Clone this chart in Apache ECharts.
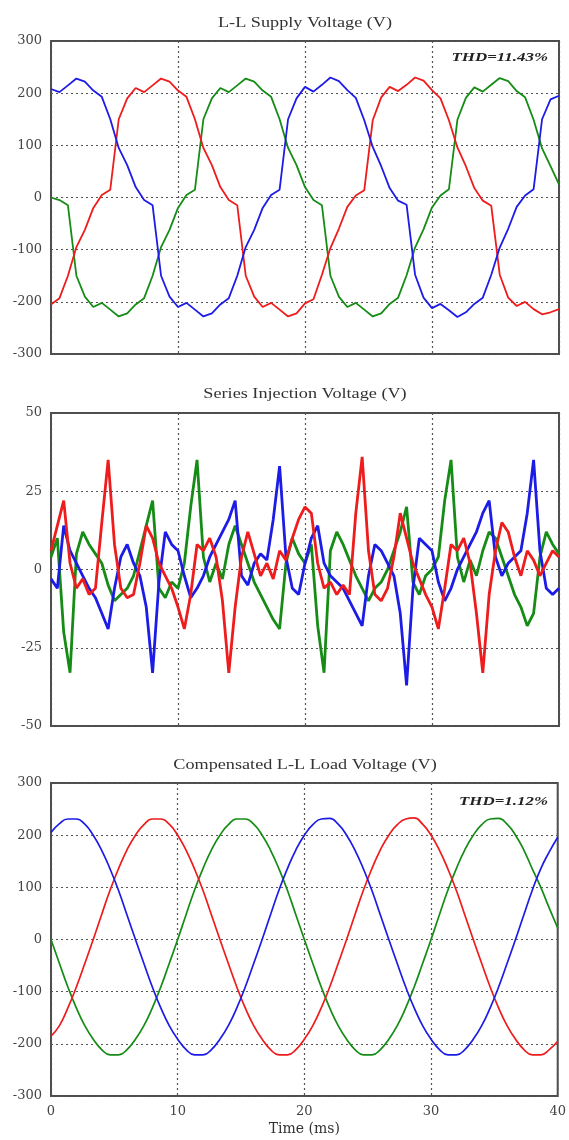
<!DOCTYPE html>
<html>
<head>
<meta charset="utf-8">
<title>Supply, injection and load voltages</title>
<script src="https://cdn.jsdelivr.net/npm/echarts@6.0.0/dist/echarts.min.js"></script>
<style>
  html, body { margin: 0; padding: 0; background: #fff; }
  #chart { width: 569px; height: 1140px; }
</style>
</head>
<body>
<div id="chart"></div>
<script>
// time samples (ms)
const tCoarse = [0, 0.667, 1.333, 2, 2.667, 3.333, 4, 4.667, 5.333, 6, 6.667, 7.333, 8, 8.667, 9.333,
  10, 10.667, 11.333, 12, 12.667, 13.333, 14, 14.667, 15.333, 16, 16.667, 17.333, 18, 18.667, 19.333,
  20, 20.667, 21.333, 22, 22.667, 23.333, 24, 24.667, 25.333, 26, 26.667, 27.333, 28, 28.667, 29.333,
  30, 30.667, 31.333, 32, 32.667, 33.333, 34, 34.667, 35.333, 36, 36.667, 37.333, 38, 38.667, 39.333, 40];
const tFine = [0, 0.5, 1, 1.5, 2, 2.5, 3, 3.5, 4, 4.5, 5, 5.5, 6, 6.5, 7, 7.5, 8, 8.5, 9, 9.5,
  10, 10.5, 11, 11.5, 12, 12.5, 13, 13.5, 14, 14.5, 15, 15.5, 16, 16.5, 17, 17.5, 18, 18.5, 19, 19.5,
  20, 20.5, 21, 21.5, 22, 22.5, 23, 23.5, 24, 24.5, 25, 25.5, 26, 26.5, 27, 27.5, 28, 28.5, 29, 29.5,
  30, 30.5, 31, 31.5, 32, 32.5, 33, 33.5, 34, 34.5, 35, 35.5, 36, 36.5, 37, 37.5, 38, 38.5, 39, 39.5, 40];

// L-L supply voltage (V)
const supplyRed = [-205, -193, -150, -95, -62, -20, 5, 15, 150, 190, 210, 202, 215, 228, 222,
  205, 193, 150, 95, 62, 20, -5, -15, -150, -190, -210, -202, -215, -228, -222,
  -203, -195, -148, -97, -60, -18, 4, 14, 148, 192, 212, 204, 216, 230, 224,
  206, 190, 148, 96, 60, 18, -6, -16, -148, -192, -208, -200, -214, -224, -220, -214];
const supplyBlue = [208, 202, 215, 228, 222, 205, 193, 150, 95, 62, 20, -5, -15, -150, -190,
  -210, -202, -215, -228, -222, -205, -193, -150, -95, -62, -20, 5, 15, 150, 190,
  212, 203, 216, 230, 223, 206, 191, 148, 97, 60, 18, -6, -14, -148, -192,
  -212, -204, -216, -229, -220, -204, -192, -148, -96, -60, -18, 4, 16, 150, 188, 195];
const supplyGreen = [0, -5, -15, -150, -190, -210, -202, -215, -228, -222,
  -205, -193, -150, -95, -62, -20, 5, 15, 150, 190, 210, 202, 215, 228, 222,
  205, 193, 150, 95, 62, 20, -5, -15, -150, -190, -210, -202, -215, -228, -222,
  -204, -192, -149, -96, -61, -19, 4, 16, 149, 191, 211, 203, 216, 229, 223,
  204, 192, 149, 94, 60, 25];

// series injection voltage (V)
const injRed = [6, 14, 22, 2, -6, -3, -8, -6, 15, 35, 8, -6, -9, -8, 2, 14, 10, 2, -2, -6,
  -12, -19, -8, 8, 6, 10, 4, -10, -33, -12, 4, 12, 5, -2, 2, -3, 6, 3, 10, 16,
  20, 18, 2, -6, -4, -8, -5, -8, 18, 36, 6, -8, -10, -6, 4, 18, 10, 2, -3, -8,
  -12, -19, -6, 8, 6, 10, 2, -14, -33, -8, 6, 15, 12, 4, -2, 6, 3, -2, 2, 6, 4];
const injGreen = [4, 10, -20, -33, 5, 12, 8, 5, 2, -5, -10, -8, -6, -2, 6, 14, 22, -6, -9, -4,
  -6, 2, 20, 35, 4, -4, 2, -3, 8, 14, 8, 2, -4, -8, -12, -16, -19, 2, 10, 5,
  2, 8, -18, -33, 6, 12, 8, 3, -2, -6, -10, -6, -4, 0, 6, 12, 20, -4, -8, -2,
  0, 4, 22, 35, 4, -4, 3, -2, 6, 12, 10, 4, -2, -8, -12, -18, -14, 4, 12, 8, 5];
const injBlue = [-3, -6, 14, 6, 2, -2, -6, -9, -14, -19, -6, 4, 8, 2, -2, -12, -33, -4, 12, 8,
  6, -2, -9, -6, -2, 4, 8, 12, 16, 22, -2, -5, 2, 5, 3, 16, 33, 4, -6, -8,
  2, 10, 14, 2, -2, -4, -6, -10, -14, -18, -2, 8, 6, 2, -2, -14, -37, -6, 10, 8,
  6, -4, -10, -6, 0, 4, 8, 12, 18, 22, 4, -2, 2, 4, 6, 18, 35, 6, -6, -8, -6];

// compensated L-L load voltage (V)
const loadRed = [-185, -165, -131, -91, -46, 0, 48, 95, 136, 172, 200, 220, 231, 231, 221,
  200, 171, 135, 94, 47, 0, -46, -91, -131, -165, -191, -211, -221, -221, -211,
  -191, -165, -131, -91, -46, 0, 48, 95, 136, 172, 200, 220, 231, 233, 221,
  200, 171, 135, 94, 47, 0, -46, -91, -131, -165, -191, -211, -221, -221, -211, -195];
const loadBlue = [205, 222, 231, 231, 221, 200, 171, 135, 94, 47, 0, -46, -91, -131, -165,
  -191, -211, -221, -221, -211, -191, -165, -131, -91, -46, 0, 48, 95, 136, 172,
  200, 220, 231, 232, 221, 200, 171, 135, 94, 47, 0, -46, -91, -131, -165,
  -191, -211, -221, -221, -211, -191, -165, -131, -91, -46, 0, 48, 95, 136, 168, 196];
const loadGreen = [0, -46, -91, -131, -165, -191, -211, -221, -221, -211, -191, -165, -131, -91, -46,
  0, 48, 95, 136, 172, 200, 220, 231, 231, 221, 200, 171, 135, 94, 47,
  0, -46, -91, -131, -165, -191, -211, -221, -221, -211, -191, -165, -131, -91, -46,
  0, 48, 95, 136, 172, 200, 220, 231, 232, 221, 200, 171, 135, 100, 60, 22];

const panelTitles = ["L-L Supply Voltage (V)", "Series Injection Voltage (V)", "Compensated L-L Load Voltage (V)"];
const thdLabels = ["THD=11.43%", "", "THD=1.12%"];
const yRanges = [[-300, 300, 100], [-50, 50, 25], [-300, 300, 100]];

const RED = "#ee1c1c", GREEN = "#168c16", BLUE = "#1c1ce6";
const tops = [41, 413, 783];
const plotH = 313;

const pairs = (t, v) => t.map((x, i) => [x, v[i]]);

const chart = echarts.init(document.getElementById("chart"));

const grids = tops.map(top => ({
  left: 51, right: 10, top: top, height: plotH,
  show: true, borderColor: "#4d4d4d", borderWidth: 2, backgroundColor: "transparent"
}));

const labelStyle = { color: "#444", fontFamily: "DejaVu Serif", fontSize: 13 };
const dotted = { color: "#555", type: [2, 3], width: 1.2 };

const xAxes = [0, 1, 2].map(i => ({
  type: "value", gridIndex: i, min: 0, max: 40, interval: 10,
  axisLine: { show: false }, axisTick: { show: false },
  axisLabel: Object.assign({ show: i === 2, margin: 9 }, labelStyle),
  splitLine: { show: true, lineStyle: dotted },
  name: i === 2 ? "Time (ms)" : "",
  nameLocation: "middle", nameGap: 26,
  nameTextStyle: { color: "#333", fontFamily: "DejaVu Serif", fontSize: 14 }
}));

const yAxes = yRanges.map((r, i) => ({
  type: "value", gridIndex: i, min: r[0], max: r[1], interval: r[2],
  axisLine: { show: false }, axisTick: { show: false },
  axisLabel: Object.assign({ margin: 9 }, labelStyle),
  splitLine: { show: true, lineStyle: dotted }
}));

function line(i, t, v, color, width, smooth) {
  return {
    type: "line", xAxisIndex: i, yAxisIndex: i,
    data: pairs(t, v), showSymbol: false, smooth: smooth,
    lineStyle: { color: color, width: width }, itemStyle: { color: color },
    animation: false
  };
}

const series = [
  line(0, tCoarse, supplyGreen, GREEN, 1.8, false),
  line(0, tCoarse, supplyRed, RED, 1.8, false),
  line(0, tCoarse, supplyBlue, BLUE, 1.8, false),
  line(1, tFine, injGreen, GREEN, 2.8, false),
  line(1, tFine, injBlue, BLUE, 2.8, false),
  line(1, tFine, injRed, RED, 2.8, false),
  line(2, tCoarse, loadGreen, GREEN, 1.7, true),
  line(2, tCoarse, loadRed, RED, 1.7, true),
  line(2, tCoarse, loadBlue, BLUE, 1.7, true)
];

const graphics = [];
const titleY = [23, 394, 765];
panelTitles.forEach((txt, i) => {
  graphics.push({
    type: "text", x: 305, y: titleY[i], scaleX: 1.3,
    style: { text: txt, font: '14px "Liberation Serif"', fill: "#333",
      align: "center", verticalAlign: "middle", textAlign: "center", textVerticalAlign: "middle" }
  });
});
const thdY = [58, 802];
[0, 2].forEach((p, j) => {
  graphics.push({
    type: "text", x: 548, y: thdY[j], scaleX: 1.3,
    style: { text: thdLabels[p], font: 'italic bold 13px "Liberation Serif"', fill: "#222",
      align: "right", verticalAlign: "middle", textAlign: "right", textVerticalAlign: "middle" }
  });
});

chart.setOption({
  animation: false,
  backgroundColor: "#fff",
  grid: grids,
  xAxis: xAxes,
  yAxis: yAxes,
  series: series,
  graphic: graphics
});
</script>
</body>
</html>
